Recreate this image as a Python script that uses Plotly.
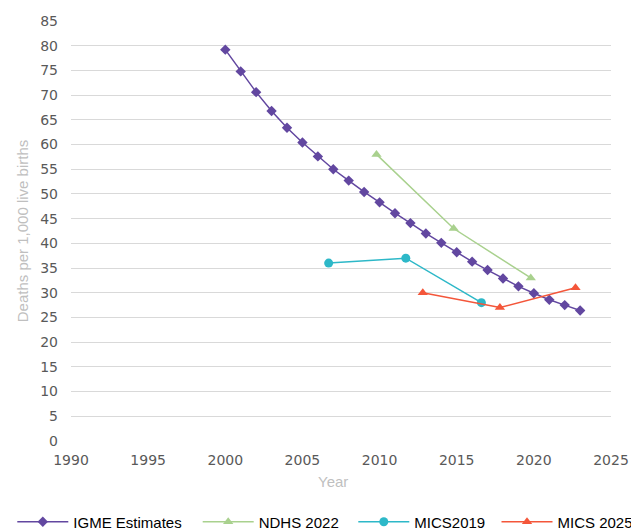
import plotly.graph_objects as go

igme_years = list(range(2000, 2024))
igme_values = [79.2, 74.8, 70.6, 66.8, 63.4, 60.4, 57.6, 55.0, 52.7, 50.4, 48.3, 46.1,
               44.1, 42.0, 40.1, 38.2, 36.3, 34.6, 32.9, 31.3, 29.9, 28.6, 27.5, 26.4]

ndhs_years = [2009.8, 2014.8, 2019.8]
ndhs_values = [58, 43, 33]

mics2019_years = [2006.7, 2011.7, 2016.6]
mics2019_values = [36, 37, 28]

mics2025_years = [2012.8, 2017.8, 2022.7]
mics2025_values = [30, 27, 31]

x_ticks = [1990, 1995, 2000, 2005, 2010, 2015, 2020, 2025]
y_ticks = list(range(0, 90, 5))

# page has an 8px body margin; figure sized to fit the 639x531 window
W, H = 631, 523

fig = go.Figure()
fig.add_trace(go.Scatter(x=igme_years, y=igme_values, name="IGME Estimates", mode="lines+markers",
                         line=dict(color="#6247A0", width=1.5), legend="legend",
                         marker=dict(symbol="diamond", size=8, color="#6247A0")))
fig.add_trace(go.Scatter(x=ndhs_years, y=ndhs_values, name="NDHS 2022", mode="lines+markers",
                         line=dict(color="#A9D18E", width=1.5), legend="legend2",
                         marker=dict(symbol="triangle-up", size=9, color="#A9D18E")))
fig.add_trace(go.Scatter(x=mics2019_years, y=mics2019_values, name="MICS2019", mode="lines+markers",
                         line=dict(color="#2DB8C8", width=1.5), legend="legend3",
                         marker=dict(symbol="circle", size=9, color="#2DB8C8")))
fig.add_trace(go.Scatter(x=mics2025_years, y=mics2025_values, name="MICS 2025", mode="lines+markers",
                         line=dict(color="#F4563A", width=1.5), legend="legend4",
                         marker=dict(symbol="triangle-up", size=9, color="#F4563A")))

legend_font = dict(family="Liberation Sans", size=15, color="#000000")
legend_y = 1 - 514 / H


def make_legend(xpx):
    return dict(orientation="h", xref="container", yref="container", x=xpx / W, y=legend_y,
                xanchor="left", yanchor="middle", itemwidth=51, font=legend_font,
                bgcolor="rgba(0,0,0,0)")


fig.update_layout(
    width=W, height=H,
    margin=dict(l=63, r=28, t=13, b=90),
    paper_bgcolor="white", plot_bgcolor="white",
    font=dict(family="DejaVu Sans", size=14, color="#595959"),
    xaxis=dict(range=[1990, 2025], tickvals=x_ticks, showgrid=False, zeroline=False,
               showline=False, ticks="", tickfont=dict(size=14, color="#595959"),
               automargin=False, ticklabelstandoff=9),
    yaxis=dict(range=[0, 85], tickvals=y_ticks, showgrid=True, gridcolor="#D9D9D9", gridwidth=1,
               zeroline=False, showline=False, ticks="", tickfont=dict(size=14, color="#595959"),
               ticklabelstandoff=12, automargin=False,
               title=dict(text="Deaths per 1,000 live births", font=dict(size=15, color="#BFBFBF", family="Liberation Sans"), standoff=7)),
    annotations=[dict(text="Year", xref="paper", yref="paper", x=(325 - 63) / 540, y=0,
                      xanchor="center", yanchor="middle", yshift=-40.5, showarrow=False,
                      font=dict(size=15, color="#BFBFBF", family="Liberation Sans"))],
    showlegend=True,
    legend=make_legend(4.3),
    legend2=make_legend(189.7),
    legend3=make_legend(345.3),
    legend4=make_legend(488.5),
)

fig.write_html("out.html")
